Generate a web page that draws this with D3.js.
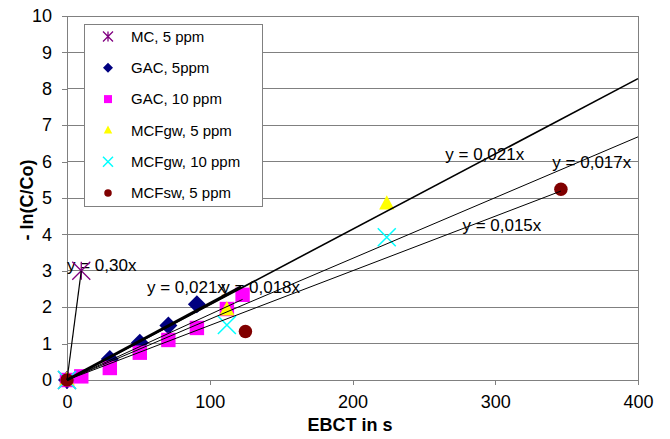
<!DOCTYPE html>
<html><head><meta charset="utf-8">
<script src="https://cdn.jsdelivr.net/npm/d3@7"></script>
<style>body{margin:0;background:#fff}svg{display:block}text{font-family:"Liberation Sans",Arial,sans-serif}</style>
</head><body><svg id="c" width="670" height="439"></svg>
<script>
// ---- data ----
const seriesNames = ["MC, 5 ppm","GAC, 5ppm","GAC, 10 ppm","MCFgw, 5 ppm","MCFgw, 10 ppm","MCFsw, 5 ppm"];
const mcX = [0, 10],            mcY = [0, 3.0];
const gac5X = [0, 30, 51, 71, 91], gac5Y = [0, 0.58, 1.02, 1.5, 2.08];
const gac10X = [0, 10, 30, 51, 71, 91, 112, 123], gac10Y = [0, 0.1, 0.33, 0.75, 1.1, 1.43, 1.95, 2.34];
const mcfgw5X = [0, 112, 224],  mcfgw5Y = [0, 1.92, 4.83];
const mcfgw10X = [0, 112, 224], mcfgw10Y = [0, 1.51, 3.92];
const mcfswX = [0, 125, 346],   mcfswY = [0, 1.33, 5.24];
// trendlines y = a*x (through origin), drawn from 0 to end
const trendSlopes = [0.30, 0.021, 0.018, 0.0207, 0.0167, 0.015];
const trendEnds   = [10, 122, 123, 400, 400, 346];
const trendLabels = ["y = 0,30x","y = 0,021x","y = 0,018x","y = 0,021x","y = 0,017x","y = 0,015x"];
const xTicks = [0, 100, 200, 300, 400];
const yTicks = [0,1,2,3,4,5,6,7,8,9,10];

const xs = [mcX, gac5X, gac10X, mcfgw5X, mcfgw10X, mcfswX];
const ys = [mcY, gac5Y, gac10Y, mcfgw5Y, mcfgw10Y, mcfswY];
const styles = [
  {sym:"star", color:"#800080"},
  {sym:"diamond", color:"#000080"},
  {sym:"square", color:"#FF00FF"},
  {sym:"triangle", color:"#FFFF00"},
  {sym:"cross", color:"#00FFFF"},
  {sym:"circle", color:"#800000"}
];
const trendWidths = [1.2, 3, 1, 1.6, 1, 1];
// label anchor positions in data units (left x, center y)
const labelPos = [[0, 3.15],[56, 2.55],[108, 2.55],[265, 6.2],[340, 6.0],[277, 4.25]];

const svg = d3.select("#c");
const x = d3.scaleLinear().domain([0,400]).range([67,638]);
const y = d3.scaleLinear().domain([0,10]).range([380,16]);
const font = '"Liberation Sans",Arial,sans-serif';

// grid
svg.append("g").selectAll("line").data(yTicks.slice(1)).join("line")
  .attr("x1", x(0)).attr("x2", x(400)).attr("y1", d=>y(d)).attr("y2", d=>y(d))
  .attr("stroke","#808080").attr("stroke-width",1).attr("shape-rendering","crispEdges");
svg.append("line").attr("x1",x(400)).attr("x2",x(400)).attr("y1",y(10)).attr("y2",y(0))
  .attr("stroke","#808080").attr("shape-rendering","crispEdges");

// axes
const xAxis = svg.append("g").attr("transform",`translate(0,${y(0)})`)
  .call(d3.axisBottom(x).tickValues(xTicks).tickSize(5).tickPadding(10).tickFormat(d3.format("d")));
const yAxis = svg.append("g").attr("transform",`translate(${x(0)},0)`)
  .call(d3.axisLeft(y).tickValues(yTicks).tickSize(5).tickPadding(10).tickFormat(d3.format("d")));
[xAxis,yAxis].forEach(g=>{
  g.select(".domain").attr("stroke","#808080").attr("shape-rendering","crispEdges");
  g.selectAll(".tick line").attr("stroke","#808080").attr("shape-rendering","crispEdges");
  g.selectAll(".tick text").attr("font-family",font).attr("font-size",18).attr("fill","#000");
});
yAxis.select(".domain").attr("d",`M-5,${y(10)}H0V${y(0)}`);
xAxis.select(".domain").attr("d",`M0,5V0H${x(400)-x(0)}`).attr("transform",`translate(${x(0)},0)`);

// axis titles
svg.append("text").attr("x", 350).attr("y", 431).attr("text-anchor","middle")
  .attr("font-size",18).attr("font-weight","bold").text("EBCT in s");
svg.append("text").attr("transform","translate(33,200) rotate(-90)").attr("text-anchor","middle")
  .attr("font-size",18).attr("font-weight","bold").text("- ln(C/Co)");

// trend labels
svg.append("g").selectAll("text").data(trendLabels).join("text")
  .attr("x",(d,i)=>x(labelPos[i][0])).attr("y",(d,i)=>y(labelPos[i][1]))
  .attr("dy","0.35em").attr("font-size",17).attr("fill","#000").text(d=>d);

// marker drawing
function drawMarker(g, sym, color, cx, cy, s){
  const h = s/2;
  if(sym==="star"){
    const p = `M${cx-h},${cy-h}L${cx+h},${cy+h}M${cx-h},${cy+h}L${cx+h},${cy-h}M${cx},${cy-h}L${cx},${cy+h}`;
    g.append("path").attr("d",p).attr("stroke",color).attr("stroke-width",1.3).attr("fill","none");
  } else if(sym==="cross"){
    const p = `M${cx-h},${cy-h}L${cx+h},${cy+h}M${cx-h},${cy+h}L${cx+h},${cy-h}`;
    g.append("path").attr("d",p).attr("stroke",color).attr("stroke-width",1.5).attr("fill","none");
  } else if(sym==="diamond"){
    g.append("path").attr("d",`M${cx},${cy-h}L${cx+h},${cy}L${cx},${cy+h}L${cx-h},${cy}Z`).attr("fill",color);
  } else if(sym==="square"){
    g.append("rect").attr("x",cx-h*0.8).attr("y",cy-h*0.8).attr("width",h*1.6).attr("height",h*1.6).attr("fill",color);
  } else if(sym==="triangle"){
    g.append("path").attr("d",`M${cx},${cy-h}L${cx+h*0.85},${cy+h*0.6}L${cx-h*0.85},${cy+h*0.6}Z`).attr("fill",color);
  } else if(sym==="circle"){
    g.append("circle").attr("cx",cx).attr("cy",cy).attr("r",h*0.75).attr("fill",color);
  }
}

// markers
const mg = svg.append("g");
xs.forEach((xa,i)=>{
  xa.forEach((xv,j)=>{
    drawMarker(mg, styles[i].sym, styles[i].color, x(xv), y(ys[i][j]), 18);
  });
});

// trendlines
const line = d3.line().x(d=>x(d[0])).y(d=>y(d[1]));
svg.append("g").selectAll("path").data(trendSlopes).join("path")
  .attr("d",(a,i)=>line([[0,0],[trendEnds[i], a*trendEnds[i]]]))
  .attr("stroke","#000").attr("fill","none").attr("stroke-width",(a,i)=>trendWidths[i]);

// legend
const lg = svg.append("g");
lg.append("rect").attr("x",84.5).attr("y",24.5).attr("width",178).attr("height",182)
  .attr("fill","#fff").attr("stroke","#808080");
seriesNames.forEach((n,i)=>{
  const cy = 36.5 + i*31.3;
  drawMarker(lg, styles[i].sym, styles[i].color, 108, cy, 10);
  lg.append("text").attr("x",131).attr("y",cy).attr("dy","0.35em").attr("font-size",15).text(n);
});
</script></body></html>
